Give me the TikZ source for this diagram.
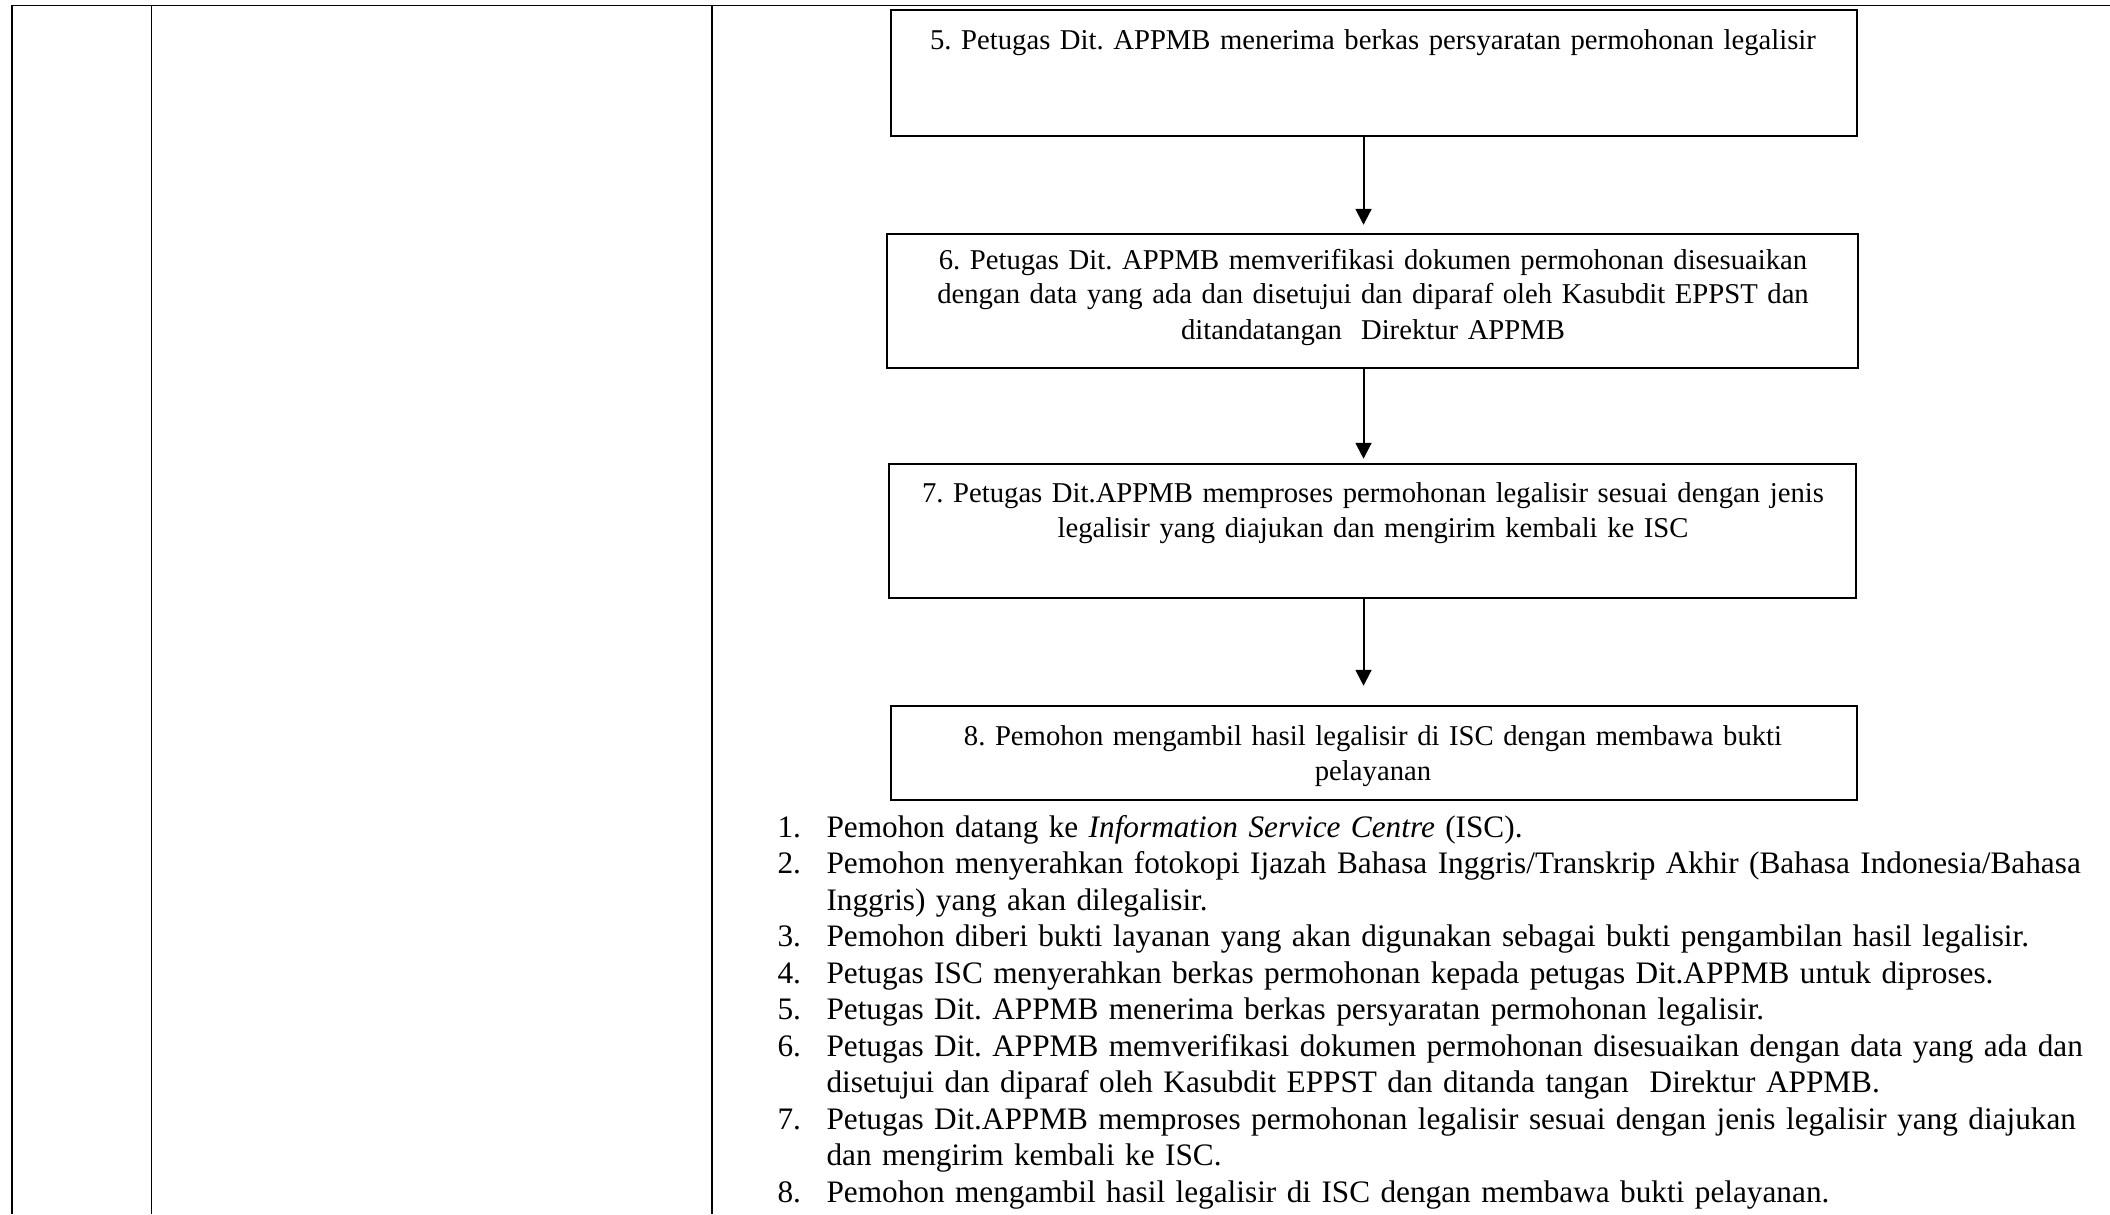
\documentclass[tikz,border=0pt]{standalone}
\usepackage{fontspec}
\setmainfont{Liberation Serif}
\usetikzlibrary{arrows.meta}
\frenchspacing
\begin{document}
\begin{tikzpicture}[x=0.38pt,y=-0.38pt,
  rule/.style={line width=0.75pt},
  stepbox/.style={draw, line width=1pt, rectangle, inner sep=0pt},
  boxtext/.style={anchor=base, text width=380pt, align=center, inner sep=0pt,
    font=\fontsize{10.9}{13.3}\selectfont},
  flow/.style={line width=0.75pt, -{Triangle[length=6pt,width=6pt]}},
  num/.style={anchor=base west, inner sep=0pt, font=\fontsize{11.88}{13.87}\selectfont},
  itemtext/.style={anchor=base west, inner sep=0pt, align=left, text width=500pt,
    font=\fontsize{11.88}{13.87}\selectfont}
]
\useasboundingbox (0,0) rectangle (2110,1214);

% table frame
\coordinate (tl) at (12,5.5);
\coordinate (tr) at (2110,5.5);
\coordinate (c1top) at (151.5,5.5);
\coordinate (c2top) at (711.5,5.5);
\coordinate (bl) at (12,1214);
\coordinate (c1bot) at (151.5,1214);
\coordinate (c2bot) at (711.5,1214);
\draw[rule] (tl) -- (tr);
\draw[rule] (tl) -- (bl);
\draw[rule] (c1top) -- (c1bot);
\draw[rule] (c2top) -- (c2bot);

% flow boxes
\node[stepbox, minimum width={966*0.38pt}, minimum height={126*0.38pt}] (b5) at (1374,73) {};
\node[stepbox, minimum width={971*0.38pt}, minimum height={134*0.38pt}] (b6) at (1372.5,301) {};
\node[stepbox, minimum width={967*0.38pt}, minimum height={134*0.38pt}] (b7) at (1372.5,531) {};
\node[stepbox, minimum width={966*0.38pt}, minimum height={94*0.38pt}] (b8) at (1374,753) {};

\node[boxtext] (t5) at (1373,50) {5. Petugas Dit. APPMB menerima berkas persyaratan permohonan legalisir};
\node[boxtext] (t6) at (1373,269) {6. Petugas Dit. APPMB memverifikasi dokumen permohonan disesuaikan\\
  dengan data yang ada dan disetujui dan diparaf oleh Kasubdit EPPST dan\\
  ditandatangan\ \ Direktur APPMB};
\node[boxtext] (t7) at (1373,502) {7. Petugas Dit.APPMB memproses permohonan legalisir sesuai dengan jenis\\
  legalisir yang diajukan dan mengirim kembali ke ISC};
\node[boxtext] (t8) at (1373,745) {8. Pemohon mengambil hasil legalisir di ISC dengan membawa bukti\\
  pelayanan};

% connectors
\coordinate (ax) at (1363.5,0);
\draw[flow, shorten >=3pt] (b5.south -| ax) -- (b6.north -| ax);
\draw[flow, shorten >=1.5pt] (b6.south -| ax) -- (b7.north -| ax);
\draw[flow, shorten >=7.2pt] (b7.south -| ax) -- (b8.north -| ax);

% numbered description
\node[num] (n1) at (777,837) {1.};
\node[itemtext] (i1) at (826,837) {Pemohon datang ke \textit{Information Service Centre} (ISC).};
\node[num] (n2) at (777,873.5) {2.};
\node[itemtext] (i2) at (826,873.5) {Pemohon menyerahkan fotokopi Ijazah Bahasa Inggris/Transkrip Akhir (Bahasa Indonesia/Bahasa\\
  Inggris) yang akan dilegalisir.};
\node[num] (n3) at (777,946.5) {3.};
\node[itemtext] (i3) at (826,946.5) {Pemohon diberi bukti layanan yang akan digunakan sebagai bukti pengambilan hasil legalisir.};
\node[num] (n4) at (777,983) {4.};
\node[itemtext] (i4) at (826,983) {Petugas ISC menyerahkan berkas permohonan kepada petugas Dit.APPMB untuk diproses.};
\node[num] (n5) at (777,1019.5) {5.};
\node[itemtext] (i5) at (826,1019.5) {Petugas Dit. APPMB menerima berkas persyaratan permohonan legalisir.};
\node[num] (n6) at (777,1056) {6.};
\node[itemtext] (i6) at (826,1056) {Petugas Dit. APPMB memverifikasi dokumen permohonan disesuaikan dengan data yang ada dan\\
  disetujui dan diparaf oleh Kasubdit EPPST dan ditanda tangan\ \ Direktur APPMB.};
\node[num] (n7) at (777,1129) {7.};
\node[itemtext] (i7) at (826,1129) {Petugas Dit.APPMB memproses permohonan legalisir sesuai dengan jenis legalisir yang diajukan\\
  dan mengirim kembali ke ISC.};
\node[num] (n8) at (777,1202) {8.};
\node[itemtext] (i8) at (826,1202) {Pemohon mengambil hasil legalisir di ISC dengan membawa bukti pelayanan.};
\end{tikzpicture}
\end{document}
